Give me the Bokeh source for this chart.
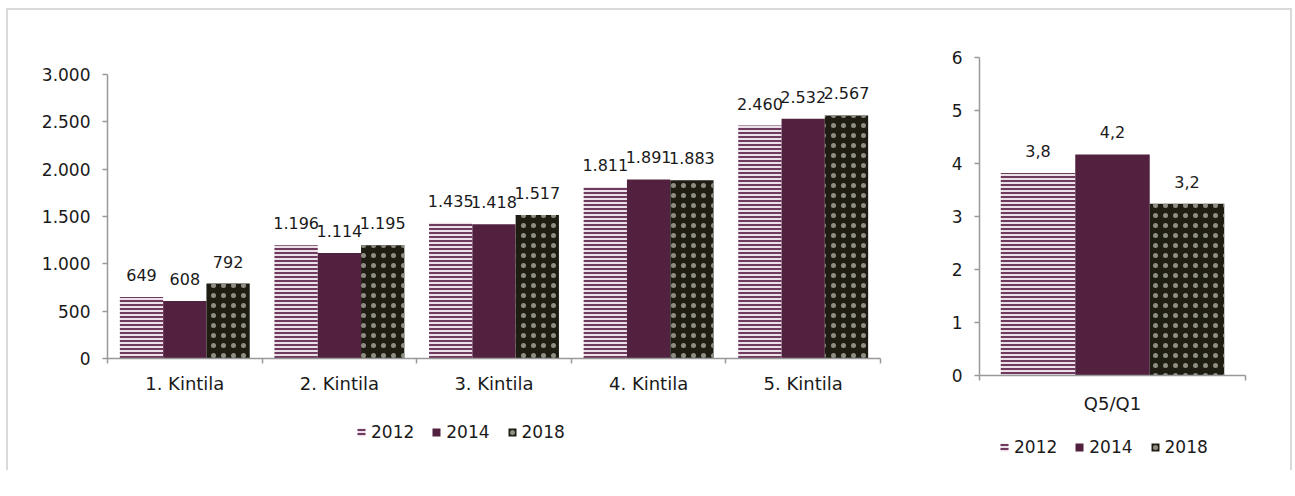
import numpy as np
from bokeh.plotting import figure
from bokeh.models import (ColumnDataSource, Range1d, FixedTicker, LinearAxis,
                          Legend, LegendItem, LabelSet)
from bokeh.transform import dodge
from bokeh.layouts import row, column
from bokeh.core.properties import value
from bokeh.embed import file_html
from bokeh.resources import INLINE

# ---------------- data ----------------
categories = ["1. Kintila", "2. Kintila", "3. Kintila", "4. Kintila", "5. Kintila"]
years = ["2012", "2014", "2018"]
v2012 = [649, 1196, 1435, 1811, 2460]
v2014 = [608, 1114, 1418, 1891, 2532]
v2018 = [792, 1195, 1517, 1883, 2567]
left_ticks = [0, 500, 1000, 1500, 2000, 2500, 3000]

ratio_categories = ["Q5/Q1"]
r2012 = [3.82]
r2014 = [4.17]
r2018 = [3.24]
right_ticks = [0, 1, 2, 3, 4, 5, 6]

FONT = "DejaVu Sans"
AXIS_COLOR = "#999999"
TEXT_COLOR = "#1a1a1a"

bar_styles = {
    "2012": dict(fill_color="#ece1e8", hatch_pattern="horizontal_line",
                 hatch_color="#6e3b5e", hatch_scale=4, hatch_weight=2),
    "2014": dict(fill_color="#52213f"),
    "2018": dict(fill_color="#1e1c13", hatch_pattern="dot",
                 hatch_color="#8e8e82", hatch_scale=10),
}
offsets = {"2012": -0.28, "2014": 0.0, "2018": 0.28}


def thousands(v):
    return f"{v:,}".replace(",", ".")


def decimal_comma(v):
    return f"{v:.1f}".replace(".", ",")


def bare_figure(**kw):
    p = figure(x_axis_type=None, y_axis_type=None,
               output_backend="svg", toolbar_location=None, **kw)
    p.xgrid.visible = False
    p.ygrid.visible = False
    p.outline_line_color = None
    p.background_fill_color = "white"
    p.border_fill_color = "white"
    return p


def make_source(cats, series, label_fmt):
    data = {"x": list(np.arange(len(cats)) + 0.5)}
    for yr, vals in zip(years, series):
        data[yr] = vals
        data[yr + "_lbl"] = [label_fmt(v) for v in vals]
    return ColumnDataSource(data)


def make_chart(cats, src, yticks, ymax, frame_w, frame_h, borders, cat_standoff):
    n = len(cats)
    p = bare_figure(frame_width=frame_w, frame_height=frame_h,
                    x_range=Range1d(0, n), y_range=Range1d(0, ymax),
                    min_border_left=borders[0], min_border_right=borders[1],
                    min_border_top=borders[2], min_border_bottom=borders[3])

    # y axis
    yax = LinearAxis(ticker=FixedTicker(ticks=yticks, minor_ticks=[]))
    yax.major_label_overrides = {t: thousands(t) for t in yticks}
    yax.axis_line_color = AXIS_COLOR
    yax.axis_line_width = 1.5
    yax.major_tick_line_color = AXIS_COLOR
    yax.major_tick_line_width = 1.5
    yax.major_tick_out = 5
    yax.major_tick_in = 0
    yax.minor_tick_line_color = None
    yax.major_label_standoff = 12
    yax.major_label_text_font = FONT
    yax.major_label_text_font_size = "17px"
    yax.major_label_text_color = TEXT_COLOR
    p.add_layout(yax, "left")

    # x axis: labels at centres, ticks at category boundaries
    centres = [i + 0.5 for i in range(n)]
    bounds = [float(i) for i in range(n + 1)]
    xax = LinearAxis(ticker=FixedTicker(ticks=centres, minor_ticks=bounds))
    xax.major_label_overrides = {c: name for c, name in zip(centres, cats)}
    xax.axis_line_color = AXIS_COLOR
    xax.axis_line_width = 1.5
    xax.major_tick_line_color = None
    xax.minor_tick_line_color = AXIS_COLOR
    xax.minor_tick_line_width = 1.5
    xax.minor_tick_out = 5
    xax.minor_tick_in = 0
    xax.major_label_standoff = cat_standoff
    xax.major_label_text_font = FONT
    xax.major_label_text_font_size = "18px"
    xax.major_label_text_color = TEXT_COLOR
    p.add_layout(xax, "below")

    for yr in years:
        p.vbar(x=dodge("x", offsets[yr], range=p.x_range), top=yr,
               width=0.28, source=src, line_color=None, **bar_styles[yr])
        lbl = LabelSet(x=dodge("x", offsets[yr], range=p.x_range), y=yr,
                       text=yr + "_lbl", source=src, text_align="center",
                       text_baseline="alphabetic", y_offset=16,
                       text_font=value(FONT), text_font_size="16px",
                       text_color=TEXT_COLOR)
        p.add_layout(lbl)
    return p


def make_legend(src, frame_w, frame_h, borders, loc):
    lf = bare_figure(frame_width=frame_w, frame_height=frame_h,
                     x_range=Range1d(0, 1), y_range=Range1d(0, 1),
                     min_border_left=borders[0], min_border_right=borders[1],
                     min_border_top=0, min_border_bottom=0)
    items = []
    for yr in years:
        r = lf.vbar(x="x", top=yr, width=0.28, source=src,
                    line_color=None, **bar_styles[yr])
        r.visible = False
        items.append(LegendItem(label=yr, renderers=[r]))
    legend = Legend(items=items, location=loc, orientation="horizontal",
                    padding=0, margin=0, border_line_color=None,
                    background_fill_alpha=0, glyph_width=10, glyph_height=10,
                    label_standoff=5, spacing=17, click_policy="none",
                    label_text_font=FONT, label_text_font_size="17px",
                    label_text_color=TEXT_COLOR)
    lf.add_layout(legend, "center")
    return lf


src1 = make_source(categories, [v2012, v2014, v2018], thousands)
p1 = make_chart(categories, src1, left_ticks, 3000, 773, 284, (99, 60, 64, 40), 8)
lf1 = make_legend(src1, 773, 60, (99, 60), (249, 16))

src2 = make_source(ratio_categories, [r2012, r2014, r2018], decimal_comma)
p2 = make_chart(ratio_categories, src2, right_ticks, 6, 266, 318, (39, 45, 47, 45), 11)
lf2 = make_legend(src2, 266, 50, (39, 45), (20, 13))

layout = row(column(p1, lf1), column(p2, lf2),
             styles={"border-top": "2px solid #d9d9d9",
                     "border-left": "2px solid #d9d9d9",
                     "border-right": "2px solid #d9d9d9",
                     "margin-left": "6px", "margin-top": "8px"})

open("out.html", "w").write(file_html(layout, INLINE))
